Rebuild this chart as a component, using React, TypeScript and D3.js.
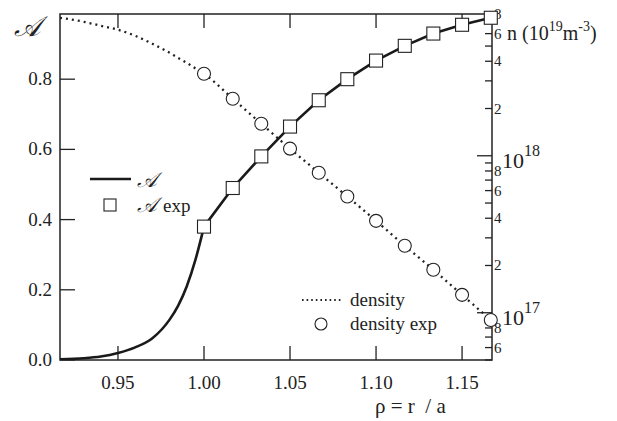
import React, { useEffect, useRef } from 'react';
import * as d3 from 'd3';

// profile data
const rhoCurve = [0.9163, 0.93, 0.94, 0.95, 0.96, 0.97, 0.98, 0.985, 0.99, 0.995];
const aCurve = [0.002, 0.005, 0.01, 0.02, 0.036, 0.062, 0.115, 0.155, 0.21, 0.285];
const densCurve = [7.57e18, 7.14e18, 6.73e18, 6.35e18, 5.81e18, 5.17e18, 4.53e18, 4.2e18, 3.91e18, 3.6e18];

const rhoExp = [1.0, 1.0167, 1.0333, 1.05, 1.0667, 1.0833, 1.1, 1.1167, 1.1333, 1.15, 1.1667];
const aExp = [0.38, 0.49, 0.58, 0.665, 0.74, 0.8, 0.853, 0.895, 0.93, 0.955, 0.975];
const densExp = [3.33e18, 2.31e18, 1.6e18, 1.11e18, 7.8e17, 5.5e17, 3.85e17, 2.67e17, 1.88e17, 1.3e17, 9.0e16];

const xTicks = [0.95, 1.0, 1.05, 1.1, 1.15];
const yTicks = [0, 0.2, 0.4, 0.6, 0.8];

const W = 617;
const H = 421;
const serif = 'Liberation Serif, Times New Roman, serif';
const ink = '#222';

export default function App() {
  const ref = useRef<SVGSVGElement>(null);

  useEffect(() => {
    const svg = d3.select(ref.current);
    svg.selectAll('*').remove();

    const left = 60, right = 492, top = 14, bottom = 360;
    const x = d3.scaleLinear().domain([0.9163, 1.1674]).range([left, right]);
    const y = d3.scaleLinear().domain([0, 0.9857]).range([bottom, top]);
    const yn = d3.scaleLog().domain([5e16, 8e18]).range([bottom, top]);

    // frame
    svg.append('rect')
      .attr('x', left).attr('y', top)
      .attr('width', right - left).attr('height', bottom - top)
      .attr('fill', 'none').attr('stroke', ink).attr('stroke-width', 1.5);

    // x ticks bottom + top
    xTicks.forEach(t => {
      svg.append('line').attr('x1', x(t)).attr('x2', x(t)).attr('y1', bottom).attr('y2', bottom - 14)
        .attr('stroke', ink).attr('stroke-width', 1.3);
      svg.append('line').attr('x1', x(t)).attr('x2', x(t)).attr('y1', top).attr('y2', top + 14)
        .attr('stroke', ink).attr('stroke-width', 1.3);
      svg.append('text').attr('x', x(t)).attr('y', 389)
        .attr('text-anchor', 'middle').attr('font-size', 19)
        .attr('fill', ink).text(t.toFixed(2));
    });

    // left y ticks
    yTicks.forEach(t => {
      svg.append('line').attr('x1', left).attr('x2', left + 15).attr('y1', y(t)).attr('y2', y(t))
        .attr('stroke', ink).attr('stroke-width', 1.3);
      svg.append('text').attr('x', 52).attr('y', y(t) + 6)
        .attr('text-anchor', 'end').attr('font-size', 19)
        .attr('fill', ink).text(t.toFixed(1));
    });

    // right log ticks
    const logTicks: number[] = [];
    [1e16, 1e17, 1e18].forEach(dec => {
      for (let m = 1; m <= 9; m++) {
        const v = m * dec;
        if (v >= 5e16 && v <= 8e18) logTicks.push(v);
      }
    });
    logTicks.forEach(v => {
      const mant = Math.round(v / Math.pow(10, Math.floor(Math.log10(v) + 1e-9)));
      const major = mant === 1;
      svg.append('line').attr('x1', right).attr('x2', right - (major ? 15 : 7))
        .attr('y1', yn(v)).attr('y2', yn(v)).attr('stroke', ink).attr('stroke-width', 1.3);
      if (!major && mant % 2 === 0) {
        svg.append('text').attr('x', 494).attr('y', yn(v) + 5)
          .attr('font-size', 15).attr('fill', ink).text(String(mant));
      }
    });
    [[1e18, '18'], [1e17, '17']].forEach(([v, e]) => {
      const t = svg.append('text').attr('x', 502).attr('y', yn(v as number) + 12)
        .attr('font-size', 22).attr('fill', ink);
      t.append('tspan').text('10');
      t.append('tspan').attr('dy', -12).attr('font-size', 16).text(e as string);
    });

    // unit label
    const u = svg.append('text').attr('x', 507).attr('y', 40)
      .attr('font-size', 20).attr('fill', ink);
    u.append('tspan').text('n (10');
    u.append('tspan').attr('dy', -9).attr('font-size', 14).text('19');
    u.append('tspan').attr('dy', 9).text('m');
    u.append('tspan').attr('dy', -9).attr('font-size', 14).text('-3');
    u.append('tspan').attr('dy', 9).text(')');

    // axis titles
    svg.append('text').attr('x', 14).attr('y', 36)
      .attr('font-style', 'italic').attr('font-size', 28).attr('fill', ink).text('𝒜');
    svg.append('text').attr('x', 375).attr('y', 413)
      .attr('font-size', 21).attr('fill', ink).attr('xml:space', 'preserve').text('ρ = r  / a');

    const clip = svg.append('defs').append('clipPath').attr('id', 'plotclip');
    clip.append('rect').attr('x', left).attr('y', top).attr('width', right - left).attr('height', bottom - top);
    const g = svg.append('g').attr('clip-path', 'url(#plotclip)');

    // density dotted line
    const dRho = rhoCurve.concat(rhoExp);
    const dVal = densCurve.concat(densExp);
    const densLine = d3.line<number>().x((_, i) => x(dRho[i])).y((d) => yn(d)).curve(d3.curveMonotoneX);
    g.append('path').attr('d', densLine(dVal)).attr('fill', 'none').attr('stroke', ink)
      .attr('stroke-width', 2.3).attr('stroke-dasharray', '2 4');

    // A solid line: smooth rise up to 1.00, then straight segments through measured points
    const aRise = d3.line<number>().x((_, i) => x(dRho[i])).y((d) => y(d)).curve(d3.curveMonotoneX);
    g.append('path').attr('d', aRise(aCurve.concat([aExp[0]]))).attr('fill', 'none').attr('stroke', '#1a1a1a')
      .attr('stroke-width', 2.6);
    const aSeg = d3.line<number>().x((_, i) => x(rhoExp[i])).y((d) => y(d));
    g.append('path').attr('d', aSeg(aExp)).attr('fill', 'none').attr('stroke', '#1a1a1a')
      .attr('stroke-width', 2.6);

    // markers (not clipped)
    rhoExp.forEach((r, i) => {
      svg.append('circle').attr('cx', x(r)).attr('cy', yn(densExp[i])).attr('r', 6.5)
        .attr('fill', 'white').attr('stroke', ink).attr('stroke-width', 1.1);
    });
    rhoExp.forEach((r, i) => {
      svg.append('rect').attr('x', x(r) - 6.5).attr('y', y(aExp[i]) - 6.5).attr('width', 13).attr('height', 13)
        .attr('fill', 'white').attr('stroke', ink).attr('stroke-width', 1.1);
    });

    // legends
    svg.append('line').attr('x1', 90).attr('x2', 131).attr('y1', 179).attr('y2', 179)
      .attr('stroke', '#1a1a1a').attr('stroke-width', 2.6);
    svg.append('text').attr('x', 137).attr('y', 187)
      .attr('font-style', 'italic').attr('font-size', 21).attr('fill', ink).text('𝒜');
    svg.append('rect').attr('x', 104).attr('y', 199).attr('width', 12).attr('height', 12)
      .attr('fill', 'white').attr('stroke', ink).attr('stroke-width', 1.1);
    svg.append('text').attr('x', 137).attr('y', 212)
      .attr('font-size', 19).attr('fill', ink)
      .call(t => {
        t.append('tspan').attr('font-style', 'italic').attr('font-size', 21).text('𝒜');
        t.append('tspan').attr('dx', 6).text('exp');
      });

    svg.append('line').attr('x1', 302).attr('x2', 341).attr('y1', 300).attr('y2', 300)
      .attr('stroke', ink).attr('stroke-width', 2).attr('stroke-dasharray', '1.6 3');
    svg.append('text').attr('x', 350).attr('y', 306)
      .attr('font-size', 19).attr('fill', ink).text('density');
    svg.append('circle').attr('cx', 321).attr('cy', 324).attr('r', 6)
      .attr('fill', 'white').attr('stroke', ink).attr('stroke-width', 1.1);
    svg.append('text').attr('x', 350).attr('y', 330)
      .attr('font-size', 19).attr('fill', ink).text('density exp');
  }, []);

  return (
    <svg ref={ref} width={W} height={H}
      style={{ position: 'absolute', left: 0, top: 0, background: 'white', fontFamily: serif }} />
  );
}
